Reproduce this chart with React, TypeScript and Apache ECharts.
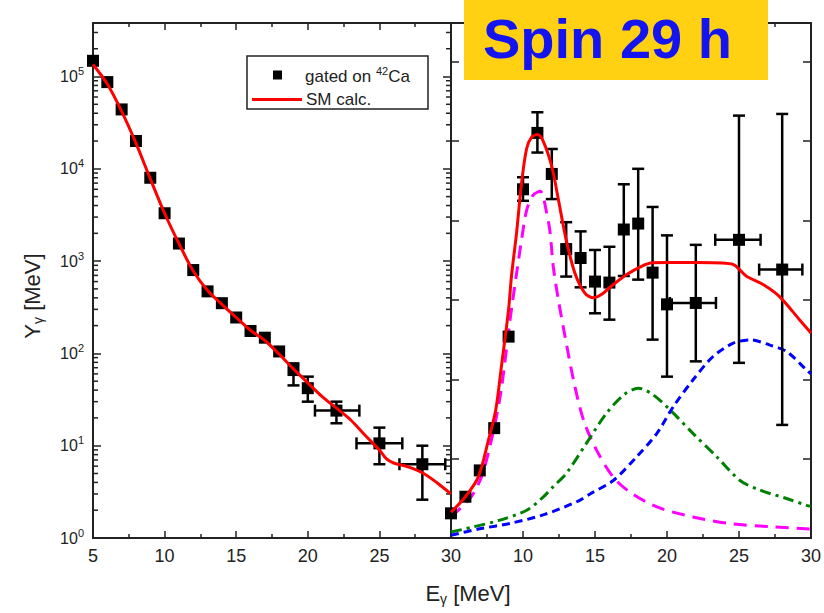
import React, { useEffect, useRef } from 'react';
import * as echarts from 'echarts';

// ---------- data ----------
const xTickValues = [5, 10, 15, 20, 25, 30];

// left panel: measured spectrum gated on 42Ca
const leftPtsX = [5, 6, 7, 8, 9, 10, 11, 12, 13, 14, 15, 16, 17, 18, 19, 20, 22, 25, 28];
const leftPtsY = [1.48e5, 8.7e4, 4.4e4, 2.0e4, 8.0e3, 3.3e3, 1.55e3, 800, 470, 350, 245, 175, 148, 105, 66, 42, 24, 10.6, 6.3];
// vertical error bars: [x, low, high]
const leftErrV = [[19, 45, 78], [20, 30, 56], [22, 17.5, 30], [25, 6.3, 15.7], [28, 2.6, 10]];
// horizontal error bars: [y, xLow, xHigh]
const leftErrH = [[24, 20.5, 23.6], [10.6, 23.4, 26.6], [6.3, 26.4, 29.6]];

// left panel: SM calculation
const leftSmX = [5, 6, 7, 8, 9, 10, 11, 12, 13, 14, 15, 16, 17, 18, 19, 20, 21, 22, 23, 24, 25, 25.5, 26, 27, 28, 29, 30];
const leftSmY = [1.35e5, 8.3e4, 4.2e4, 1.9e4, 7.8e3, 3.3e3, 1.55e3, 780, 480, 340, 245, 178, 138, 98, 68, 48, 34, 25.5, 19, 13, 9, 7.2, 6.5, 5.9, 5.1, 4.0, 3.0];

// right panel: measured spectrum (spin 29 h)
const rightPtsX = [5, 6, 7, 8, 9, 10, 11, 12, 13, 14, 15, 16, 17, 18, 19, 20, 22, 25, 28];
const rightPtsY = [1.85, 2.8, 5.4, 15.5, 152, 6.0e3, 2.45e4, 8.8e3, 1.35e3, 1.08e3, 600, 585, 2.2e3, 2.55e3, 750, 340, 352, 1.7e3, 810];
const rightErrV = [
  [10, 4.5e3, 8.1e3], [11, 1.5e4, 4.1e4], [12, 4.7e3, 1.64e4], [13, 680, 2.64e3], [14, 520, 2.1e3],
  [15, 272, 1.32e3], [16, 232, 1.43e3], [17, 690, 6.8e3], [18, 630, 1.0e4], [19, 141, 3.86e3],
  [20, 56, 1.9e3], [22, 82, 1.5e3], [25, 79, 3.77e4], [28, 16.8, 3.93e4],
];
const rightErrH = [[352, 20.2, 23.4], [1700, 23.35, 26.5], [810, 26.4, 29.4]];

// right panel: SM calculation (total)
const rightSmX = [5, 6, 6.9, 7.6, 8.1, 8.5, 9.0, 9.2, 9.55, 9.9, 10.25, 10.6, 11.0, 11.4, 12.0, 12.45, 13.0, 13.6, 14.3, 14.9, 15.5, 16.0, 17.2, 18.3, 19.0, 20.0, 22.0, 24.5, 25.5, 26.7, 27.8, 29.2, 30];
const rightSmY = [1.9, 2.8, 4.6, 11.5, 24, 72, 300, 690, 2000, 7000, 1.65e4, 2.2e4, 2.35e4, 2.0e4, 1.06e4, 4700, 1700, 745, 450, 400, 440, 515, 715, 890, 960, 965, 965, 930, 690, 555, 415, 232, 166];

// right panel: components
const magentaX = [5, 6.4, 7.2, 8.06, 8.52, 9.1, 9.56, 9.9, 10.26, 10.7, 11.2, 11.65, 11.88, 12.1, 12.45, 12.92, 13.5, 14.2, 15.1, 16.25, 17.4, 19.3, 21.8, 24.4, 27.4, 30];
const magentaY = [1.69, 2.79, 5.0, 17.5, 43.6, 231, 745, 1700, 3600, 5200, 5700, 3300, 2050, 880, 385, 153, 52, 19, 9, 4.6, 3.16, 2.17, 1.69, 1.43, 1.32, 1.25];

const greenX = [5, 6.55, 8.4, 10.26, 11.3, 12.1, 13.0, 14.4, 15.8, 17.0, 18.0, 19.05, 20.44, 21.8, 23.45, 25.07, 26.46, 28.3, 29.7, 30];
const greenY = [1.16, 1.32, 1.56, 2.0, 2.68, 3.6, 5.0, 10.6, 22.5, 35.5, 42, 35.5, 22.5, 13.6, 7.6, 4.2, 3.3, 2.68, 2.26, 2.2];

const blueX = [5, 6.9, 9.2, 11.5, 13.8, 14.65, 16.27, 17.9, 19.3, 20.44, 21.8, 23.2, 24.6, 25.8, 27.15, 28.3, 29.7, 30];
const blueY = [1.07, 1.25, 1.45, 1.8, 2.5, 3.0, 4.2, 7.6, 13.6, 26.5, 51.5, 92.6, 129, 140, 123, 105, 66, 60];

// log minor tick values for the left panel's y axes
const minorMultipliers = [2, 3, 4, 5, 6, 7, 8, 9];
const decades = [1, 10, 100, 1000, 10000, 100000];

const Y_MIN = 1;
const Y_MAX = 3.8e5;

const zip = (xs: number[], ys: number[]) => xs.map((x, i) => [x, ys[i]]);

const FONT = 'Liberation Sans, Arial, sans-serif';
const INK = '#222';

function errV(params: any, api: any) {
  const x = api.value(0);
  const p1 = api.coord([x, api.value(1)]);
  const p2 = api.coord([x, api.value(2)]);
  const c = 6;
  const st = { stroke: '#000', lineWidth: 2.5 };
  return {
    type: 'group',
    children: [
      { type: 'line', shape: { x1: p1[0], y1: p1[1], x2: p2[0], y2: p2[1] }, style: st },
      { type: 'line', shape: { x1: p1[0] - c, y1: p1[1], x2: p1[0] + c, y2: p1[1] }, style: st },
      { type: 'line', shape: { x1: p2[0] - c, y1: p2[1], x2: p2[0] + c, y2: p2[1] }, style: st },
    ],
  };
}

function errH(params: any, api: any) {
  const y = api.value(0);
  const p1 = api.coord([api.value(1), y]);
  const p2 = api.coord([api.value(2), y]);
  const c = 6;
  const st = { stroke: '#000', lineWidth: 2.5 };
  return {
    type: 'group',
    children: [
      { type: 'line', shape: { x1: p1[0], y1: p1[1], x2: p2[0], y2: p2[1] }, style: st },
      { type: 'line', shape: { x1: p1[0], y1: p1[1] - c, x2: p1[0], y2: p1[1] + c }, style: st },
      { type: 'line', shape: { x1: p2[0], y1: p2[1] - c, x2: p2[0], y2: p2[1] + c }, style: st },
    ],
  };
}

function minorTick(params: any, api: any) {
  const p = api.coord([api.value(0), api.value(1)]);
  const dir = api.value(2);
  return {
    type: 'line',
    shape: { x1: p[0], y1: p[1], x2: p[0] + dir * 5, y2: p[1] },
    style: { stroke: INK, lineWidth: 1.5 },
  };
}

export default function App() {
  const ref = useRef<HTMLDivElement>(null);

  useEffect(() => {
    if (!ref.current) return;
    const chart = echarts.init(ref.current, null, { renderer: 'svg' });

    const minorData: number[][] = [];
    decades.forEach((d) => {
      minorMultipliers.forEach((m) => {
        const v = d * m;
        if (v < Y_MAX) {
          minorData.push([5, v, 1]);
          minorData.push([30, v, -1]);
        }
      });
    });

    const xAxisBase = (gridIndex: number, position: 'bottom' | 'top', showLabel: boolean, hideFirst: boolean) => ({
      type: 'value',
      gridIndex,
      position,
      min: 5,
      max: 30,
      interval: 5,
      axisLine: { show: true, onZero: false, lineStyle: { color: INK, width: 2 } },
      axisTick: { show: true, inside: true, length: 7, lineStyle: { color: INK, width: 1.5 } },
      minorTick: { show: true, splitNumber: 2, length: 4, lineStyle: { color: INK, width: 1.5 } },
      splitLine: { show: false },
      axisLabel: {
        show: showLabel,
        color: INK,
        fontSize: 18,
        fontFamily: FONT,
        margin: 9,
        formatter: (v: number) => (hideFirst && v === xTickValues[0] ? '' : String(v)),
      },
    });

    const logLabel = (v: number) => {
      const e = Math.log10(v);
      const r = Math.round(e);
      if (Math.abs(e - r) > 1e-6) return '';
      return `{b|10}{s|${r}}`;
    };

    const option: any = {
      animation: false,
      backgroundColor: '#fff',
      grid: [
        { left: 93, top: 23, width: 358, height: 515, show: false },
        { left: 451, top: 23, width: 360, height: 515, show: false },
      ],
      xAxis: [
        xAxisBase(0, 'bottom', true, false),
        xAxisBase(0, 'top', false, false),
        xAxisBase(1, 'bottom', true, true),
        xAxisBase(1, 'top', false, false),
      ],
      yAxis: [
        {
          type: 'log',
          logBase: 10,
          gridIndex: 0,
          position: 'left',
          min: Y_MIN,
          max: Y_MAX,
          splitNumber: 6,
          axisLine: { show: true, onZero: false, lineStyle: { color: INK, width: 2 } },
          axisTick: { show: true, inside: true, length: 8, lineStyle: { color: INK, width: 1.5 } },
          splitLine: { show: false },
          axisLabel: {
            show: true,
            margin: 9,
            showMaxLabel: false,
            formatter: logLabel,
            rich: {
              b: { fontSize: 16, fontFamily: FONT, color: INK, lineHeight: 22 },
              s: { fontSize: 11, fontFamily: FONT, color: INK, lineHeight: 12, verticalAlign: 'top' },
            },
          },
        },
        {
          type: 'log',
          logBase: 10,
          gridIndex: 0,
          position: 'right',
          min: Y_MIN,
          max: Y_MAX,
          splitNumber: 6,
          axisLine: { show: true, onZero: false, lineStyle: { color: INK, width: 2 } },
          axisTick: { show: true, inside: true, length: 8, lineStyle: { color: INK, width: 1.5 } },
          splitLine: { show: false },
          axisLabel: { show: false },
        },
        {
          type: 'log',
          logBase: 10,
          gridIndex: 1,
          position: 'left',
          min: Y_MIN,
          max: Y_MAX,
          show: false,
        },
        {
          type: 'value',
          gridIndex: 1,
          position: 'right',
          min: 0,
          max: 6.49,
          interval: 1,
          axisLine: { show: true, onZero: false, lineStyle: { color: INK, width: 2 } },
          axisTick: { show: true, inside: true, length: 8, lineStyle: { color: INK, width: 1.5 } },
          splitLine: { show: false },
          axisLabel: { show: false },
        },
        {
          type: 'value',
          gridIndex: 1,
          position: 'left',
          min: 0,
          max: 6.49,
          interval: 1,
          axisLine: { show: true, onZero: false, lineStyle: { color: INK, width: 2 } },
          axisTick: { show: true, inside: true, length: 8, lineStyle: { color: INK, width: 1.5 } },
          splitLine: { show: false },
          axisLabel: { show: false },
        },
      ],
      series: [
        // left panel
        {
          type: 'custom',
          xAxisIndex: 0,
          yAxisIndex: 0,
          renderItem: minorTick,
          data: minorData,
          silent: true,
          z: 1,
        },
        {
          type: 'custom',
          xAxisIndex: 0,
          yAxisIndex: 0,
          renderItem: errV,
          data: leftErrV,
          z: 2,
        },
        {
          type: 'custom',
          xAxisIndex: 0,
          yAxisIndex: 0,
          renderItem: errH,
          data: leftErrH,
          z: 2,
        },
        {
          name: 'gated on 42Ca',
          type: 'scatter',
          xAxisIndex: 0,
          yAxisIndex: 0,
          symbol: 'rect',
          symbolSize: 12,
          itemStyle: { color: '#000', opacity: 1 },
          data: zip(leftPtsX, leftPtsY),
          z: 3,
        },
        {
          name: 'SM calc.',
          type: 'line',
          xAxisIndex: 0,
          yAxisIndex: 0,
          showSymbol: false,
          smooth: 0.3,
          lineStyle: { color: '#ff0000', width: 3 },
          data: zip(leftSmX, leftSmY),
          z: 4,
        },
        // right panel
        {
          type: 'line',
          xAxisIndex: 2,
          yAxisIndex: 2,
          showSymbol: false,
          smooth: 0.3,
          lineStyle: { color: '#ff00ff', width: 3, type: [13, 8] },
          data: zip(magentaX, magentaY),
          z: 2,
        },
        {
          type: 'line',
          xAxisIndex: 2,
          yAxisIndex: 2,
          showSymbol: false,
          smooth: 0.3,
          lineStyle: { color: '#008000', width: 3, type: [11, 5, 3, 5] },
          data: zip(greenX, greenY),
          z: 2,
        },
        {
          type: 'line',
          xAxisIndex: 2,
          yAxisIndex: 2,
          showSymbol: false,
          smooth: 0.3,
          lineStyle: { color: '#0000ff', width: 3, type: [8, 5] },
          data: zip(blueX, blueY),
          z: 2,
        },
        {
          type: 'custom',
          xAxisIndex: 2,
          yAxisIndex: 2,
          renderItem: errV,
          data: rightErrV,
          z: 3,
        },
        {
          type: 'custom',
          xAxisIndex: 2,
          yAxisIndex: 2,
          renderItem: errH,
          data: rightErrH,
          z: 3,
        },
        {
          type: 'scatter',
          xAxisIndex: 2,
          yAxisIndex: 2,
          symbol: 'rect',
          symbolSize: 12,
          itemStyle: { color: '#000', opacity: 1 },
          data: zip(rightPtsX, rightPtsY),
          z: 3,
        },
        {
          type: 'line',
          xAxisIndex: 2,
          yAxisIndex: 2,
          showSymbol: false,
          smooth: 0.3,
          lineStyle: { color: '#ff0000', width: 3 },
          data: zip(rightSmX, rightSmY),
          z: 4,
        },
      ],
      graphic: [
        // legend
        {
          type: 'rect',
          z: 50,
          shape: { x: 247, y: 56, width: 181, height: 53 },
          style: { fill: '#fff', stroke: INK, lineWidth: 1.5 },
        },
        {
          type: 'rect',
          z: 51,
          shape: { x: 273, y: 70.5, width: 9, height: 9 },
          style: { fill: '#000' },
        },
        {
          type: 'text',
          z: 51,
          x: 305,
          y: 76,
          style: {
            text: '{a|gated on }{s|42}{a|Ca}',
            textVerticalAlign: 'middle',
            rich: {
              a: { fontSize: 17, fontFamily: FONT, fill: INK, lineHeight: 22 },
              s: { fontSize: 11, fontFamily: FONT, fill: INK, lineHeight: 12, verticalAlign: 'top' },
            },
          },
        },
        {
          type: 'line',
          z: 51,
          shape: { x1: 252, y1: 99.5, x2: 302, y2: 99.5 },
          style: { stroke: '#ff0000', lineWidth: 3 },
        },
        {
          type: 'text',
          z: 51,
          x: 306,
          y: 99.5,
          style: {
            text: 'SM calc.',
            fontSize: 17,
            fontFamily: FONT,
            fill: INK,
            textVerticalAlign: 'middle',
          },
        },
        // title box
        {
          type: 'rect',
          z: 60,
          shape: { x: 464, y: 0, width: 304, height: 80 },
          style: { fill: '#ffd112' },
        },
        {
          type: 'text',
          z: 61,
          x: 483,
          y: 38,
          style: {
            text: 'Spin 29 h',
            fontSize: 56,
            fontWeight: 'bold',
            fontFamily: FONT,
            fill: '#1414f0',
            textVerticalAlign: 'middle',
          },
        },
        // axis titles
        {
          type: 'text',
          z: 50,
          x: 468,
          y: 593,
          style: {
            text: '{a|E}{s|γ}{a| [MeV]}',
            textAlign: 'center',
            textVerticalAlign: 'middle',
            rich: {
              a: { fontSize: 22, fontFamily: FONT, fill: INK, lineHeight: 26 },
              s: { fontSize: 14, fontFamily: FONT, fill: INK, lineHeight: 14, verticalAlign: 'bottom' },
            },
          },
        },
        {
          type: 'text',
          z: 50,
          x: 32,
          y: 296,
          rotation: Math.PI / 2,
          style: {
            text: '{a|Y}{s|γ}{a| [MeV]}',
            textAlign: 'center',
            textVerticalAlign: 'middle',
            rich: {
              a: { fontSize: 22, fontFamily: FONT, fill: INK, lineHeight: 26 },
              s: { fontSize: 14, fontFamily: FONT, fill: INK, lineHeight: 14, verticalAlign: 'bottom' },
            },
          },
        },
      ],
    };

    chart.setOption(option);
    return () => chart.dispose();
  }, []);

  return (
    <div
      ref={ref}
      style={{ position: 'fixed', left: 0, top: 0, width: 824, height: 613, background: '#fff' }}
    />
  );
}
